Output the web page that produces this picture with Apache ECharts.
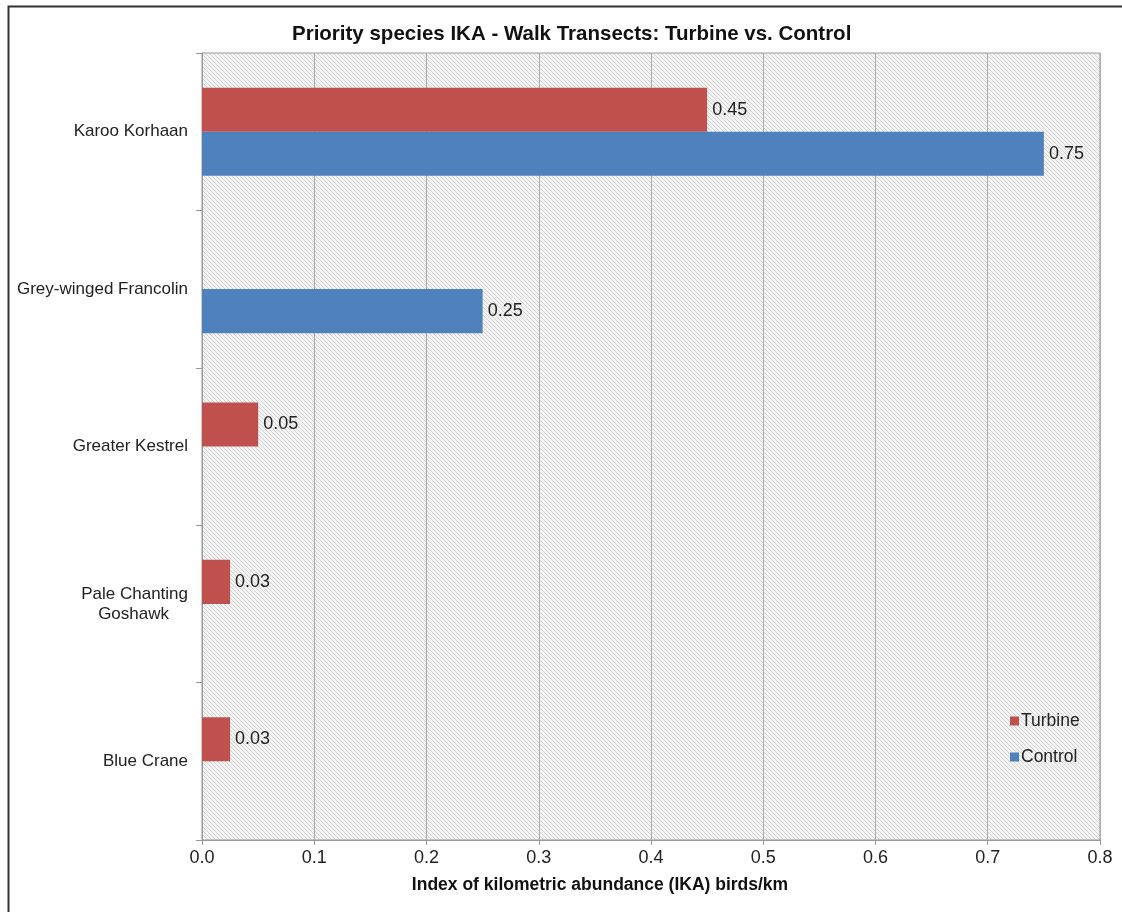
<!DOCTYPE html>
<html><head><meta charset="utf-8">
<script src="https://cdn.jsdelivr.net/npm/echarts@6/dist/echarts.min.js"></script>
<style>html,body{margin:0;padding:0;background:#fff}#c{width:1122px;height:912px}</style>
</head><body><div id="c"></div>
<script>
const categories = ['Blue Crane', 'Pale Chanting Goshawk', 'Greater Kestrel', 'Grey-winged Francolin', 'Karoo Korhaan'];
const turbine = [0.025, 0.025, 0.05, null, 0.45];
const control = [null, null, null, 0.25, 0.75];
const xTicks = { min: 0, max: 0.8, interval: 0.1 };

const pc = document.createElement('canvas');
const n = 4; pc.width = n; pc.height = n;
const g = pc.getContext('2d');
g.fillStyle = '#f4f4f4'; g.fillRect(0, 0, n, n);
g.strokeStyle = '#d4d4d4'; g.lineWidth = 1;
g.beginPath();
g.moveTo(0, 0); g.lineTo(n, n);
g.moveTo(-1, n - 1); g.lineTo(1, n + 1);
g.moveTo(n - 1, -1); g.lineTo(n + 1, 1);
g.stroke();

const font = 'Liberation Sans, Arial, sans-serif';
const chart = echarts.init(document.getElementById('c'));
const lbl = { show: true, position: 'right', distance: 5, fontSize: 18, color: '#222', fontFamily: font,
  formatter: p => (p.value == null ? '' : Number(p.value).toFixed(2)) };
chart.setOption({
  animation: false,
  backgroundColor: '#fff',
  graphic: [{ type: 'rect', left: 6, top: 4, shape: { width: 1130, height: 920 }, style: { fill: 'none', stroke: '#333', lineWidth: 2 }, z: 100 }],
  title: { text: 'Priority species IKA - Walk Transects: Turbine vs. Control', left: 287, top: 19,
    textStyle: { fontSize: 20.5, fontWeight: 'bold', color: '#111', fontFamily: font } },
  grid: { left: 202, top: 53, right: 22, bottom: 72, show: true, borderColor: '#999', borderWidth: 1,
    backgroundColor: { image: pc, repeat: 'repeat' } },
  legend: { orient: 'vertical', left: 1005, top: 707, itemWidth: 9, itemHeight: 9, itemGap: 18, icon: 'rect',
    data: ['Turbine', 'Control'], textStyle: { fontSize: 17.5, color: '#222', fontFamily: font, padding: [0, 0, 0, -3] } },
  xAxis: { type: 'value', min: xTicks.min, max: xTicks.max, interval: xTicks.interval,
    name: 'Index of kilometric abundance (IKA) birds/km', nameLocation: 'middle', nameGap: 36,
    nameTextStyle: { fontSize: 17.5, fontWeight: 'bold', color: '#111', fontFamily: font, padding: [0, 102, 0, 0] },
    axisLine: { show: true, lineStyle: { color: '#999' } },
    axisTick: { show: true, length: 5, lineStyle: { color: '#999' } },
    axisLabel: { fontSize: 18, color: '#222', fontFamily: font, margin: 9, formatter: v => v.toFixed(1) },
    splitLine: { show: true, lineStyle: { color: '#aaa' } } },
  yAxis: { type: 'category', data: categories,
    axisLine: { show: true, lineStyle: { color: '#999' } },
    axisTick: { show: true, length: 6, lineStyle: { color: '#999' } },
    axisLabel: { fontSize: 17, color: '#222', fontFamily: font, margin: 14, lineHeight: 20,
      formatter: v => v === 'Pale Chanting Goshawk' ? 'Pale Chanting\n{g|Goshawk}' : v,
      rich: { g: { fontSize: 17, color: '#222', fontFamily: font, lineHeight: 20, padding: [0, 19, 0, 0] } } } },
  series: [
    { name: 'Turbine', type: 'bar', data: turbine, itemStyle: { color: '#C0504D' }, barGap: '0%', barCategoryGap: '44%', label: lbl },
    { name: 'Control', type: 'bar', data: control, itemStyle: { color: '#4F81BD' }, barGap: '0%', barCategoryGap: '44%', label: lbl }
  ]
});
</script></body></html>
